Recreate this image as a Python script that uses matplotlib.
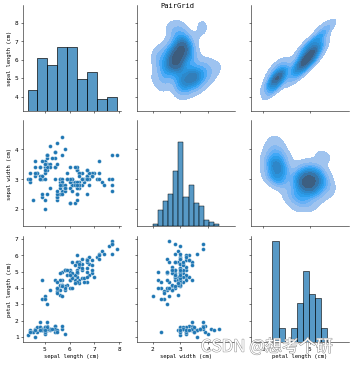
import matplotlib
matplotlib.use('Agg')
import pandas as pd
import matplotlib.pyplot as plt
import matplotlib.patheffects as pe
from matplotlib.ticker import MultipleLocator
import seaborn as sns

# iris 데이터 (sepal length, sepal width, petal length)
sepal_length = [
    5.1, 4.9, 4.7, 4.6, 5.0, 5.4, 4.6, 5.0, 4.4, 4.9, 5.4, 4.8, 4.8, 4.3, 5.8, 5.7, 5.4, 5.1, 5.7, 5.1,
    5.4, 5.1, 4.6, 5.1, 4.8, 5.0, 5.0, 5.2, 5.2, 4.7, 4.8, 5.4, 5.2, 5.5, 4.9, 5.0, 5.5, 4.9, 4.4, 5.1,
    5.0, 4.5, 4.4, 5.0, 5.1, 4.8, 5.1, 4.6, 5.3, 5.0,
    7.0, 6.4, 6.9, 5.5, 6.5, 5.7, 6.3, 4.9, 6.6, 5.2, 5.0, 5.9, 6.0, 6.1, 5.6, 6.7, 5.6, 5.8, 6.2, 5.6,
    5.9, 6.1, 6.3, 6.1, 6.4, 6.6, 6.8, 6.7, 6.0, 5.7, 5.5, 5.5, 5.8, 6.0, 5.4, 6.0, 6.7, 6.3, 5.6, 5.5,
    5.5, 6.1, 5.8, 5.0, 5.6, 5.7, 5.7, 6.2, 5.1, 5.7,
    6.3, 5.8, 7.1, 6.3, 6.5, 7.6, 4.9, 7.3, 6.7, 7.2, 6.5, 6.4, 6.8, 5.7, 5.8, 6.4, 6.5, 7.7, 7.7, 6.0,
    6.9, 5.6, 7.7, 6.3, 6.7, 7.2, 6.2, 6.1, 6.4, 7.2, 7.4, 7.9, 6.4, 6.3, 6.1, 7.7, 6.3, 6.4, 6.0, 6.9,
    6.7, 6.9, 5.8, 6.8, 6.7, 6.7, 6.3, 6.5, 6.2, 5.9,
]
sepal_width = [
    3.5, 3.0, 3.2, 3.1, 3.6, 3.9, 3.4, 3.4, 2.9, 3.1, 3.7, 3.4, 3.0, 3.0, 4.0, 4.4, 3.9, 3.5, 3.8, 3.8,
    3.4, 3.7, 3.6, 3.3, 3.4, 3.0, 3.4, 3.5, 3.4, 3.2, 3.1, 3.4, 4.1, 4.2, 3.1, 3.2, 3.5, 3.6, 3.0, 3.4,
    3.5, 2.3, 3.2, 3.5, 3.8, 3.0, 3.8, 3.2, 3.7, 3.3,
    3.2, 3.2, 3.1, 2.3, 2.8, 2.8, 3.3, 2.4, 2.9, 2.7, 2.0, 3.0, 2.2, 2.9, 2.9, 3.1, 3.0, 2.7, 2.2, 2.5,
    3.2, 2.8, 2.5, 2.8, 2.9, 3.0, 2.8, 3.0, 2.9, 2.6, 2.4, 2.4, 2.7, 2.7, 3.0, 3.4, 3.1, 2.3, 3.0, 2.5,
    2.6, 3.0, 2.6, 2.3, 2.7, 3.0, 2.9, 2.9, 2.5, 2.8,
    3.3, 2.7, 3.0, 2.9, 3.0, 3.0, 2.5, 2.9, 2.5, 3.6, 3.2, 2.7, 3.0, 2.5, 2.8, 3.2, 3.0, 3.8, 2.6, 2.2,
    3.2, 2.8, 2.8, 2.7, 3.3, 3.2, 2.8, 3.0, 2.8, 3.0, 2.8, 3.8, 2.8, 2.8, 2.6, 3.0, 3.4, 3.1, 3.0, 3.1,
    3.1, 3.1, 2.7, 3.2, 3.3, 3.0, 2.5, 3.0, 3.4, 3.0,
]
petal_length = [
    1.4, 1.4, 1.3, 1.5, 1.4, 1.7, 1.4, 1.5, 1.4, 1.5, 1.5, 1.6, 1.4, 1.1, 1.2, 1.5, 1.3, 1.4, 1.7, 1.5,
    1.7, 1.5, 1.0, 1.7, 1.9, 1.6, 1.6, 1.5, 1.4, 1.6, 1.6, 1.5, 1.5, 1.4, 1.5, 1.2, 1.3, 1.4, 1.3, 1.5,
    1.3, 1.3, 1.3, 1.6, 1.9, 1.4, 1.6, 1.4, 1.5, 1.4,
    4.7, 4.5, 4.9, 4.0, 4.6, 4.5, 4.7, 3.3, 4.6, 3.9, 3.5, 4.2, 4.0, 4.7, 3.6, 4.4, 4.5, 4.1, 4.5, 3.9,
    4.8, 4.0, 4.9, 4.7, 4.3, 4.4, 4.8, 5.0, 4.5, 3.5, 3.8, 3.7, 3.9, 5.1, 4.5, 4.5, 4.7, 4.4, 4.1, 4.0,
    4.4, 4.6, 4.0, 3.3, 4.2, 4.2, 4.2, 4.3, 3.0, 4.1,
    6.0, 5.1, 5.9, 5.6, 5.8, 6.6, 4.5, 6.3, 5.8, 6.1, 5.1, 5.3, 5.5, 5.0, 5.1, 5.3, 5.5, 6.7, 6.9, 5.0,
    5.7, 4.9, 6.7, 4.9, 5.7, 6.0, 4.8, 4.9, 5.6, 5.8, 6.1, 6.4, 5.6, 5.1, 5.6, 6.1, 5.6, 5.5, 4.8, 5.4,
    5.6, 5.1, 5.1, 5.9, 5.7, 5.2, 5.0, 5.2, 5.4, 5.1,
]

df = pd.DataFrame({
    'sepal length (cm)': sepal_length,
    'sepal width (cm)': sepal_width,
    'petal length (cm)': petal_length,
})

plt.rcParams['font.family'] = ['DejaVu Sans Mono', 'DejaVu Sans']
plt.rcParams['font.size'] = 8.5
plt.rcParams['xtick.labelsize'] = 9.5
plt.rcParams['ytick.labelsize'] = 9.5
plt.rcParams['axes.unicode_minus'] = False

g = sns.PairGrid(df, height=2.5)
g.map_upper(sns.kdeplot, fill=True)
g.map_diag(sns.histplot)
g.map_lower(sns.scatterplot)

# 눈금 간격
x_steps = [1, 1, 5]
y_steps = [1, 1, 1]
for i in range(3):
    for j in range(3):
        g.axes[i, j].xaxis.set_major_locator(MultipleLocator(x_steps[j]))
        g.axes[i, j].yaxis.set_major_locator(MultipleLocator(y_steps[i]))

fig = g.figure
fig.set_size_inches(7.5, 7.823)
fig.subplots_adjust(left=0.066, right=0.994, bottom=0.066, top=0.986,
                    wspace=0.165, hspace=0.09)
fig.text(0.504, 0.984, 'PairGrid', ha='center', va='center', fontsize=11)

# CSDN 워터마크
fig.text(0.76, 0.052, 'CSDN @想考个研', ha='center', va='center', fontsize=26,
         family=['Noto Sans CJK SC', 'DejaVu Sans'], color='white',
         path_effects=[pe.withStroke(linewidth=1.5, foreground='#909090')])

fig.savefig('out.png', dpi=46.8)
